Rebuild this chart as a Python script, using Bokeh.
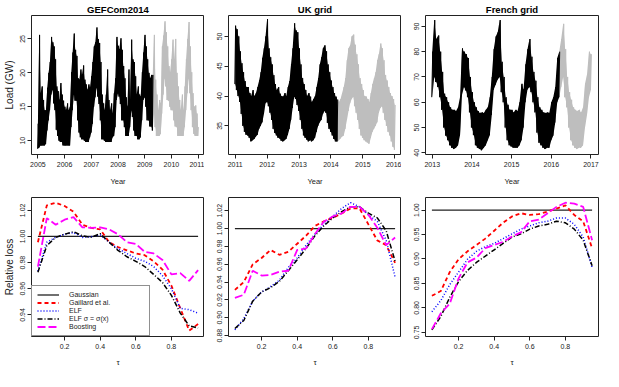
from bokeh.plotting import figure
from bokeh.layouts import gridplot
from bokeh.models import FixedTicker, Range1d, Legend, LegendItem, PrintfTickFormatter
from bokeh.embed import file_html
from bokeh.resources import INLINE

FONT = "Liberation Sans"

# ---------------- data: load time series envelopes (low / high per time step) ----------------
gef_years = [2005.00, 2005.05, 2005.10, 2005.15, 2005.20, 2005.25, 2005.30, 2005.35, 2005.40, 2005.45,
             2005.50, 2005.55, 2005.60, 2005.65, 2005.70, 2005.75, 2005.80, 2005.85, 2005.90, 2005.95,
             2006.00, 2006.05, 2006.10, 2006.15, 2006.20, 2006.25, 2006.30, 2006.35, 2006.40, 2006.45,
             2006.50, 2006.55, 2006.60, 2006.65, 2006.70, 2006.75, 2006.80, 2006.85, 2006.90, 2006.95,
             2007.00, 2007.05, 2007.10, 2007.15, 2007.20, 2007.25, 2007.30, 2007.35, 2007.40, 2007.45,
             2007.50, 2007.55, 2007.60, 2007.65, 2007.70, 2007.75, 2007.80, 2007.85, 2007.90, 2007.95,
             2008.00, 2008.05, 2008.10, 2008.15, 2008.20, 2008.25, 2008.30, 2008.35, 2008.40, 2008.45,
             2008.50, 2008.55, 2008.60, 2008.65, 2008.70, 2008.75, 2008.80, 2008.85, 2008.90, 2008.95,
             2009.00, 2009.05, 2009.10, 2009.15, 2009.20, 2009.25, 2009.30, 2009.35, 2009.40, 2009.45,
             2009.50, 2009.55, 2009.60, 2009.65, 2009.70, 2009.75, 2009.80, 2009.85, 2009.90, 2009.95,
             2010.00, 2010.05, 2010.10, 2010.15, 2010.20, 2010.25, 2010.30, 2010.35, 2010.40, 2010.45,
             2010.50, 2010.55, 2010.60, 2010.65, 2010.70, 2010.75, 2010.80, 2010.85, 2010.90, 2010.95,
             2011.00]
gef_low = [8.8, 9.0, 9.3, 9.3, 9.3, 9.3, 9.5, 11.5, 13.0, 14.5,
           16.8, 17.5, 15.5, 14.5, 11.6, 10.7, 10.0, 9.8, 9.8, 9.3,
           9.3, 9.3, 9.3, 9.3, 9.3, 12.0, 14.5, 16.8, 15.9, 15.9,
           13.0, 11.2, 10.5, 10.2, 10.2, 10.0, 9.8, 9.8, 9.8, 10.5,
           11.2, 12.5, 15.0, 16.4, 17.8, 16.5, 15.4, 13.0, 10.2, 10.2,
           10.0, 9.8, 9.8, 9.8, 9.8, 9.8, 10.5, 10.7, 12.0, 16.0,
           17.0, 16.5, 15.4, 13.0, 13.0, 12.0, 10.7, 10.7, 10.7, 12.0,
           14.5, 13.5, 11.5, 10.7, 10.7, 10.2, 10.2, 10.5, 13.0, 16.0,
           16.4, 15.0, 13.0, 13.0, 12.1, 12.1, 11.5, 14.0, 12.0, 10.7,
           10.7, 10.7, 11.0, 14.0, 16.8, 19.2, 18.0, 16.0, 15.9, 15.0,
           14.5, 14.5, 13.0, 12.1, 12.0, 10.7, 10.7, 10.7, 10.7, 10.7,
           12.0, 14.5, 17.0, 19.2, 17.0, 14.5, 12.0, 11.0, 10.7, 10.7,
           10.7]
gef_high = [12.5, 25.6, 17.0, 18.0, 16.0, 14.5, 14.5, 17.8, 20.0, 21.6,
            25.3, 24.5, 23.9, 22.0, 18.0, 17.3, 16.0, 18.5, 16.8, 15.9,
            15.0, 14.5, 15.5, 14.5, 15.0, 20.1, 23.0, 25.8, 23.4, 22.5,
            19.2, 19.0, 20.5, 19.7, 21.1, 19.0, 18.3, 17.5, 18.3, 17.8,
            19.5, 21.6, 23.9, 24.5, 26.7, 25.0, 24.4, 21.6, 16.8, 15.5,
            14.5, 16.8, 20.5, 16.0, 14.5, 15.5, 14.0, 17.0, 19.2, 25.3,
            24.0, 23.5, 25.1, 23.4, 21.0, 19.2, 16.4, 15.0, 20.5, 16.0,
            24.9, 22.0, 21.6, 19.5, 16.8, 18.0, 16.8, 16.5, 20.1, 23.0,
            25.6, 23.9, 22.0, 20.0, 19.2, 19.7, 19.7, 25.6, 19.0, 16.8,
            14.5, 16.0, 15.5, 23.9, 25.5, 27.6, 26.0, 23.9, 21.0, 20.1,
            22.0, 24.9, 22.0, 25.0, 20.0, 18.0, 16.0, 14.5, 16.8, 14.5,
            18.0, 22.0, 25.0, 27.5, 23.9, 20.1, 17.0, 15.0, 15.2, 14.0,
            12.0]
gef_split = 2009.30

uk_years = [2011.00, 2011.05, 2011.10, 2011.15, 2011.20, 2011.25, 2011.30, 2011.35, 2011.40, 2011.45,
            2011.50, 2011.55, 2011.60, 2011.65, 2011.70, 2011.75, 2011.80, 2011.85, 2011.90, 2011.95,
            2012.00, 2012.05, 2012.10, 2012.15, 2012.20, 2012.25, 2012.30, 2012.35, 2012.40, 2012.45,
            2012.50, 2012.55, 2012.60, 2012.65, 2012.70, 2012.75, 2012.80, 2012.85, 2012.90, 2012.95,
            2013.00, 2013.05, 2013.10, 2013.15, 2013.20, 2013.25, 2013.30, 2013.35, 2013.40, 2013.45,
            2013.50, 2013.55, 2013.60, 2013.65, 2013.70, 2013.75, 2013.80, 2013.85, 2013.90, 2013.95,
            2014.00, 2014.05, 2014.10, 2014.15, 2014.20, 2014.25, 2014.30, 2014.35, 2014.40, 2014.45,
            2014.50, 2014.55, 2014.60, 2014.65, 2014.70, 2014.75, 2014.80, 2014.85, 2014.90, 2014.95,
            2015.00, 2015.05, 2015.10, 2015.15, 2015.20, 2015.25, 2015.30, 2015.35, 2015.40, 2015.45,
            2015.50, 2015.55, 2015.60, 2015.65, 2015.70, 2015.75, 2015.80, 2015.85, 2015.90, 2015.95,
            2016.00]
uk_low = [42.0, 41.0, 40.0, 39.0, 37.0, 35.0, 34.0, 33.5, 33.4, 33.0,
          32.4, 32.6, 32.8, 33.2, 33.5, 34.5, 35.0, 35.6, 37.0, 38.8,
          39.0, 38.3, 37.2, 36.0, 34.5, 33.8, 33.4, 33.0, 32.9, 32.5,
          32.4, 32.6, 32.8, 33.5, 34.5, 36.0, 38.0, 39.9, 39.5, 38.5,
          37.5, 36.0, 34.5, 33.4, 33.0, 32.7, 32.4, 32.6, 32.4, 32.6,
          33.0, 34.0, 35.0, 35.6, 36.0, 37.0, 37.5, 37.2, 35.5, 34.5,
          34.0, 33.4, 32.8, 32.4, 32.4, 32.6, 32.9, 33.2, 33.4, 34.5,
          36.0, 37.5, 38.8, 39.5, 39.9, 38.3, 37.2, 36.0, 34.5, 33.4,
          33.0, 32.6, 32.4, 32.2, 32.0, 33.0, 34.0, 34.5, 35.0, 35.6,
          37.2, 38.0, 38.3, 37.2, 36.0, 35.0, 34.0, 33.4, 32.4, 31.5,
          31.0]
uk_high = [51.8, 51.2, 50.0, 47.5, 45.5, 44.0, 42.5, 41.5, 41.5, 40.5,
           40.0, 41.0, 40.0, 40.5, 41.5, 42.6, 44.0, 46.4, 48.0, 50.0,
           52.9, 48.0, 46.5, 45.3, 43.5, 42.0, 41.0, 41.5, 40.4, 40.0,
           39.9, 40.5, 40.0, 41.5, 42.5, 45.3, 48.0, 52.2, 51.0, 50.7,
           48.0, 45.3, 43.0, 42.0, 41.0, 40.0, 40.5, 39.9, 39.0, 39.5,
           40.0, 41.5, 43.0, 45.3, 46.5, 48.0, 48.5, 47.5, 45.3, 44.0,
           42.6, 41.5, 40.5, 39.9, 39.4, 39.0, 39.5, 40.5, 41.5, 43.0,
           46.0, 48.0, 48.5, 50.0, 50.3, 48.6, 47.0, 45.3, 43.0, 42.0,
           41.0, 40.0, 39.9, 39.5, 39.0, 40.5, 42.0, 43.0, 44.0, 46.0,
           47.0, 48.8, 48.0, 46.0, 43.5, 42.6, 41.5, 40.5, 40.0, 39.5,
           38.5]
uk_split = 2014.20

fr_years = [2013.00, 2013.05, 2013.10, 2013.15, 2013.20, 2013.25, 2013.30, 2013.35, 2013.40, 2013.45,
            2013.50, 2013.55, 2013.60, 2013.65, 2013.70, 2013.75, 2013.80, 2013.85, 2013.90, 2013.95,
            2014.00, 2014.05, 2014.10, 2014.15, 2014.20, 2014.25, 2014.30, 2014.35, 2014.40, 2014.45,
            2014.50, 2014.55, 2014.60, 2014.65, 2014.70, 2014.75, 2014.80, 2014.85, 2014.90, 2014.95,
            2015.00, 2015.05, 2015.10, 2015.15, 2015.20, 2015.25, 2015.30, 2015.35, 2015.40, 2015.45,
            2015.50, 2015.55, 2015.60, 2015.65, 2015.70, 2015.75, 2015.80, 2015.85, 2015.90, 2015.95,
            2016.00, 2016.05, 2016.10, 2016.15, 2016.20, 2016.25, 2016.30, 2016.35, 2016.40, 2016.45,
            2016.50, 2016.55, 2016.60, 2016.65, 2016.70, 2016.75, 2016.80, 2016.85, 2016.90, 2016.95,
            2017.00]
fr_low = [62.0, 70.0, 68.0, 66.0, 62.0, 57.0, 50.0, 46.8, 45.0, 43.0,
          42.0, 41.5, 42.0, 43.0, 47.0, 63.0, 66.0, 64.7, 62.0, 56.0,
          50.0, 47.0, 43.0, 42.0, 41.5, 41.0, 42.0, 43.0, 45.0, 47.0,
          55.0, 65.0, 67.0, 69.0, 70.0, 64.0, 60.0, 50.0, 45.0, 43.0,
          42.5, 42.0, 42.0, 42.0, 43.0, 45.0, 50.0, 60.0, 65.0, 66.0,
          64.0, 60.0, 56.0, 48.0, 44.0, 43.0, 42.0, 41.5, 42.0, 42.0,
          45.0, 46.8, 52.0, 60.0, 62.0, 66.0, 70.0, 62.0, 58.0, 50.0,
          45.0, 43.0, 42.0, 41.5, 42.0, 42.0, 43.0, 50.0, 55.0, 62.0,
          65.0]
fr_high = [80.0, 92.5, 85.0, 86.4, 80.0, 72.0, 63.4, 62.0, 60.0, 58.0,
           57.0, 57.0, 56.5, 58.0, 62.0, 81.3, 80.0, 79.0, 77.5, 70.0,
           64.0, 60.0, 58.0, 56.5, 55.8, 56.0, 55.8, 57.0, 58.0, 62.0,
           70.0, 81.0, 86.0, 87.7, 92.5, 76.0, 70.0, 62.0, 59.0, 57.0,
           57.0, 56.0, 57.0, 56.5, 60.0, 67.3, 65.0, 75.0, 81.0, 85.0,
           78.0, 72.0, 68.5, 62.0, 58.0, 57.0, 56.0, 55.8, 56.0, 55.8,
           60.0, 62.0, 66.0, 77.5, 80.0, 85.0, 91.0, 81.0, 70.0, 64.0,
           61.0, 58.0, 57.0, 56.5, 57.0, 56.0, 58.0, 67.3, 71.0, 80.0,
           79.0]
fr_split = 2016.20

# ---------------- data: relative loss vs quantile level ----------------
tau = [0.05, 0.10, 0.15, 0.20, 0.25, 0.30, 0.35, 0.40, 0.45, 0.50,
       0.55, 0.60, 0.65, 0.70, 0.75, 0.80, 0.85, 0.90, 0.95]
gaussian = [1.0, 1.0, 1.0, 1.0, 1.0, 1.0, 1.0, 1.0, 1.0, 1.0,
            1.0, 1.0, 1.0, 1.0, 1.0, 1.0, 1.0, 1.0, 1.0]

gaillard_gef = [0.9956, 1.0238, 1.0258, 1.0233, 1.0189, 1.0090, 1.0066, 1.0054, 0.9956, 0.9919,
                0.9894, 0.9870, 0.9857, 0.9810, 0.9747, 0.9624, 0.9451, 0.9280, 0.9330]
elf_gef = [0.9734, 0.9956, 0.9993, 1.0017, 1.0030, 0.9993, 0.9998, 1.0012, 0.9956, 0.9906,
           0.9870, 0.9833, 0.9810, 0.9770, 0.9700, 0.9600, 0.9451, 0.9440, 0.9414]
elfs_gef = [0.9727, 0.9930, 0.9993, 1.0017, 1.0037, 1.0005, 0.9993, 1.0022, 0.9956, 0.9894,
            0.9845, 0.9810, 0.9770, 0.9710, 0.9648, 0.9550, 0.9414, 0.9316, 0.9300]
boost_gef = [0.9770, 1.0140, 1.0090, 1.0128, 1.0148, 1.0070, 1.0066, 1.0070, 1.0054, 1.0017,
             0.9956, 0.9943, 0.9882, 0.9870, 0.9820, 0.9710, 0.9720, 0.9660, 0.9743]

gaillard_uk = [0.9312, 0.9400, 0.9599, 0.9670, 0.9760, 0.9706, 0.9740, 0.9830, 0.9920, 1.0030,
               1.0080, 1.0120, 1.0170, 1.0226, 1.0226, 1.0047, 0.9867, 0.9814, 0.9616]
elf_uk = [0.8864, 0.8990, 0.9186, 0.9290, 0.9348, 0.9420, 0.9563, 0.9670, 0.9814, 0.9939,
          1.0047, 1.0136, 1.0226, 1.0290, 1.0244, 1.0154, 1.0080, 0.9867, 0.9455]
elfs_uk = [0.8880, 0.8970, 0.9186, 0.9290, 0.9337, 0.9409, 0.9527, 0.9650, 0.9778, 0.9920,
           1.0030, 1.0120, 1.0190, 1.0244, 1.0244, 1.0172, 1.0120, 0.9975, 0.9634]
boost_uk = [0.9222, 0.9258, 0.9527, 0.9473, 0.9480, 0.9516, 0.9527, 0.9760, 0.9778, 0.9939,
            1.0080, 1.0136, 1.0170, 1.0244, 1.0244, 1.0154, 1.0010, 0.9814, 0.9900]

gaillard_fr = [0.8247, 0.8344, 0.8730, 0.8994, 0.9156, 0.9286, 0.9416, 0.9578, 0.9740, 0.9870,
               0.9935, 0.9900, 0.9916, 0.9968, 1.0030, 1.0097, 0.9900, 0.9770, 0.9220]
elf_fr = [0.7922, 0.8150, 0.8474, 0.8734, 0.8994, 0.9156, 0.9253, 0.9318, 0.9416, 0.9513,
          0.9610, 0.9675, 0.9740, 0.9773, 0.9838, 0.9838, 0.9708, 0.9448, 0.8831]
elfs_fr = [0.7552, 0.7825, 0.8214, 0.8539, 0.8766, 0.8929, 0.9058, 0.9188, 0.9318, 0.9448,
           0.9513, 0.9610, 0.9675, 0.9708, 0.9773, 0.9740, 0.9610, 0.9383, 0.8864]
boost_fr = [0.7565, 0.7890, 0.8084, 0.8604, 0.8929, 0.9026, 0.9220, 0.9286, 0.9350, 0.9460,
            0.9545, 0.9770, 0.9805, 0.9935, 1.0065, 1.0150, 1.0130, 1.0065, 0.9383]

# ---------------- tick labels ----------------
gef_xticks = [2005, 2006, 2007, 2008, 2009, 2010, 2011]
gef_yticks = [10, 15, 20, 25]
uk_xticks = [2011, 2012, 2013, 2014, 2015, 2016]
uk_yticks = [35, 40, 45, 50]
fr_xticks = [2013, 2014, 2015, 2016, 2017]
fr_yticks = [40, 50, 60, 70, 80, 90]
tau_ticks = [0.2, 0.4, 0.6, 0.8]
loss_gef_yticks = [0.94, 0.96, 0.98, 1.00, 1.02]
loss_uk_yticks = [0.88, 0.90, 0.92, 0.94, 0.96, 0.98, 1.00, 1.02]
loss_fr_yticks = [0.75, 0.80, 0.85, 0.90, 0.95, 1.00]

titles = ["GEFCom2014", "UK grid", "French grid"]
legend_labels = ["Gaussian", "Gaillard et al.", "ELF", "ELF \u03c3 = \u03c3(x)", "Boosting"]

FW, FH = 173, 139
INK = "#222222"


def make_fig(col, row, xr, yr, title=None):
    left = 31 if col == 0 else 24
    right = 2 if col == 2 else 0
    top = 15 if row == 0 else 2
    bottom = 41 if row == 0 else 34
    kw = {}
    if title is not None:
        kw["title"] = title
    p = figure(frame_width=FW, frame_height=FH, x_range=Range1d(*xr), y_range=Range1d(*yr),
               output_backend="svg", toolbar_location=None,
               min_border_left=left, min_border_right=right,
               min_border_top=top, min_border_bottom=bottom, **kw)
    if title is None:
        p.title = None
    else:
        p.title.align = "center"
        p.title.text_font = FONT
        p.title.text_font_size = "9.5px"
        p.title.text_font_style = "bold"
        p.title.text_color = "black"
        p.title.standoff = 2
    p.outline_line_color = INK
    p.outline_line_width = 1
    p.outline_line_alpha = 1
    p.xgrid.visible = False
    p.ygrid.visible = False
    p.background_fill_color = "white"
    p.border_fill_color = "white"
    for ax in (p.xaxis[0], p.yaxis[0]):
        ax.axis_line_color = None
        ax.major_tick_out = 4
        ax.major_tick_in = 0
        ax.minor_tick_line_color = None
        ax.major_tick_line_color = INK
        ax.major_label_text_font = FONT
        ax.major_label_text_font_size = "7px"
        ax.major_label_text_color = INK
        ax.major_label_standoff = 3
        ax.axis_label_text_font = FONT
        ax.axis_label_text_font_style = "normal"
        ax.axis_label_text_color = INK
    p.yaxis[0].major_label_orientation = "vertical"
    p.yaxis[0].major_label_standoff = 2
    return p


def zigzag(t, lo, hi):
    xs, ys = [], []
    for i in range(len(t)):
        if i + 1 < len(t):
            dt = t[i + 1] - t[i]
        else:
            dt = t[i] - t[i - 1]
        xs += [t[i] - dt / 4, t[i] + dt / 4]
        ys += [lo[i], hi[i]]
    return xs, ys


def draw_part(p, t, lo, hi, color):
    p.varea(x=t, y1=lo, y2=hi, fill_color=color)
    xs, ys = zigzag(t, lo, hi)
    p.line(xs, ys, line_color=color, line_width=1)


def draw_series(p, t, lo, hi, split):
    i_split = max(i for i in range(len(t)) if t[i] <= split)
    draw_part(p, t[i_split:], lo[i_split:], hi[i_split:], "#bebebe")
    draw_part(p, t[:i_split + 1], lo[:i_split + 1], hi[:i_split + 1], "black")


top_specs = [
    (gef_years, gef_low, gef_high, gef_split, (2004.76, 2011.24), (7.96, 28.46), gef_xticks, gef_yticks),
    (uk_years, uk_low, uk_high, uk_split, (2010.79, 2016.21), (30.2, 53.5), uk_xticks, uk_yticks),
    (fr_years, fr_low, fr_high, fr_split, (2012.83, 2017.19), (39.35, 94.3), fr_xticks, fr_yticks),
]
bottom_specs = [
    (gaillard_gef, elf_gef, elfs_gef, boost_gef, (0.9235, 1.0298), loss_gef_yticks),
    (gaillard_uk, elf_uk, elfs_uk, boost_uk, (0.879, 1.0348), loss_uk_yticks),
    (gaillard_fr, elf_fr, elfs_fr, boost_fr, (0.7415, 1.0257), loss_fr_yticks),
]

top_row, bottom_row = [], []
for c, (t, lo, hi, split, xr, yr, xt, yt) in enumerate(top_specs):
    p = make_fig(c, 0, xr, yr, title=titles[c])
    draw_series(p, t, lo, hi, split)
    p.xaxis.ticker = FixedTicker(ticks=xt)
    p.yaxis.ticker = FixedTicker(ticks=yt)
    p.xaxis.formatter = PrintfTickFormatter(format="%d")
    p.yaxis.formatter = PrintfTickFormatter(format="%d")
    p.xaxis.axis_label = "Year"
    p.xaxis.axis_label_text_font_size = "7.5px"
    p.xaxis.axis_label_standoff = 7
    if c == 0:
        p.yaxis.axis_label = "Load (GW)"
        p.yaxis.axis_label_text_font_size = "10px"
        p.yaxis.axis_label_standoff = 3
    top_row.append(p)

for c, (gail, elf, elfs, boost, yr, yt) in enumerate(bottom_specs):
    p = make_fig(c, 1, (0.014, 0.986), yr)
    r0 = p.line(tau, gaussian, line_color=INK, line_width=1.3)
    r1 = p.line(tau, gail, line_color="#ff0000", line_width=1.8, line_dash="4 3")
    r2 = p.line(tau, elf, line_color="#0000ff", line_width=1.5, line_dash="1 2")
    r3 = p.line(tau, elfs, line_color="black", line_width=1.5, line_dash="5 2 1 2")
    r4 = p.line(tau, boost, line_color="#ff00ff", line_width=1.8, line_dash="8 3")
    p.xaxis.ticker = FixedTicker(ticks=tau_ticks)
    p.yaxis.ticker = FixedTicker(ticks=yt)
    p.xaxis.formatter = PrintfTickFormatter(format="%.1f")
    p.yaxis.formatter = PrintfTickFormatter(format="%.2f")
    p.xaxis.axis_label = "\u03c4"
    p.xaxis.axis_label_text_font_size = "8px"
    p.xaxis.axis_label_standoff = 6
    if c == 0:
        p.yaxis.axis_label = "Relative loss"
        p.yaxis.axis_label_text_font_size = "10px"
        p.yaxis.axis_label_standoff = 3
        legend = Legend(items=[LegendItem(label=lab, renderers=[r]) for lab, r in
                               zip(legend_labels, [r0, r1, r2, r3, r4])],
                        location="bottom_left", margin=0, padding=5, spacing=1,
                        label_height=7, glyph_height=7, glyph_width=22,
                        label_standoff=10, label_width=75,
                        label_text_font=FONT, label_text_font_size="7px",
                        label_text_color=INK, label_text_line_height=1.0,
                        border_line_color=INK, border_line_width=1,
                        background_fill_color="white", background_fill_alpha=1)
        p.add_layout(legend)
    bottom_row.append(p)

grid = gridplot([top_row, bottom_row], toolbar_location=None)
open("out.html", "w").write(file_html(grid, INLINE))
